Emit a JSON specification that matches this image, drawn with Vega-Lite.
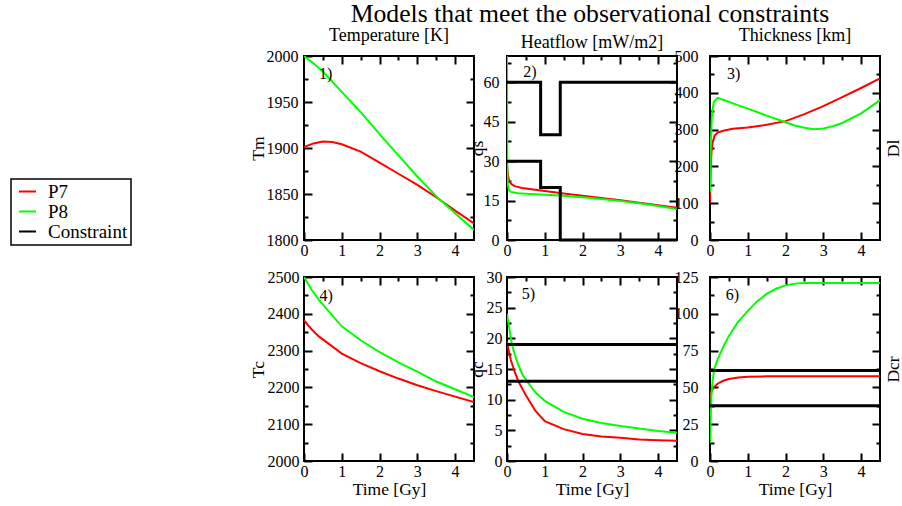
{
  "$schema": "https://vega.github.io/schema/vega-lite/v6.json",
  "padding": {"left": 10, "top": 1, "right": 0, "bottom": 0},
  "title": {"text": "Models that meet the observational constraints", "font": "Liberation Serif", "fontSize": 25.7, "fontWeight": "normal", "color": "black", "anchor": "middle", "frame": "group", "dx": 286, "offset": -2},
  "datasets": {
    "tm": [
      {"t": 0, "v": 1901, "s": "P7"}, {"t": 0.25, "v": 1905, "s": "P7"}, {"t": 0.5, "v": 1907, "s": "P7"}, {"t": 0.75, "v": 1906.5, "s": "P7"}, {"t": 1, "v": 1904, "s": "P7"}, {"t": 1.5, "v": 1896, "s": "P7"}, {"t": 2, "v": 1884, "s": "P7"}, {"t": 2.5, "v": 1872, "s": "P7"}, {"t": 3, "v": 1860, "s": "P7"}, {"t": 3.5, "v": 1846.5, "s": "P7"}, {"t": 4, "v": 1832, "s": "P7"}, {"t": 4.5, "v": 1818, "s": "P7"},
      {"t": 0, "v": 2000, "s": "P8"}, {"t": 0.25, "v": 1992, "s": "P8"}, {"t": 0.5, "v": 1983, "s": "P8"}, {"t": 0.75, "v": 1972, "s": "P8"}, {"t": 1, "v": 1961, "s": "P8"}, {"t": 1.5, "v": 1939, "s": "P8"}, {"t": 2, "v": 1915, "s": "P8"}, {"t": 2.5, "v": 1892, "s": "P8"}, {"t": 3, "v": 1869, "s": "P8"}, {"t": 3.5, "v": 1847.5, "s": "P8"}, {"t": 4, "v": 1829, "s": "P8"}, {"t": 4.5, "v": 1811, "s": "P8"}
    ],
    "qs": [
      {"t": 0, "v": 29, "s": "P7"}, {"t": 0.02, "v": 25, "s": "P7"}, {"t": 0.05, "v": 23, "s": "P7"}, {"t": 0.1, "v": 21.5, "s": "P7"}, {"t": 0.2, "v": 20.5, "s": "P7"}, {"t": 0.4, "v": 19.8, "s": "P7"}, {"t": 0.7, "v": 19.2, "s": "P7"}, {"t": 1, "v": 18.6, "s": "P7"}, {"t": 1.5, "v": 17.7, "s": "P7"}, {"t": 2, "v": 16.8, "s": "P7"}, {"t": 2.5, "v": 16, "s": "P7"}, {"t": 3, "v": 15.1, "s": "P7"}, {"t": 3.5, "v": 14.2, "s": "P7"}, {"t": 4, "v": 13.2, "s": "P7"}, {"t": 4.5, "v": 12.3, "s": "P7"},
      {"t": 0, "v": 72, "s": "P8"}, {"t": 0.005, "v": 40, "s": "P8"}, {"t": 0.01, "v": 26, "s": "P8"}, {"t": 0.02, "v": 21, "s": "P8"}, {"t": 0.05, "v": 19, "s": "P8"}, {"t": 0.1, "v": 18.3, "s": "P8"}, {"t": 0.3, "v": 17.8, "s": "P8"}, {"t": 0.6, "v": 17.5, "s": "P8"}, {"t": 1, "v": 17.2, "s": "P8"}, {"t": 1.5, "v": 16.8, "s": "P8"}, {"t": 2, "v": 16.3, "s": "P8"}, {"t": 2.5, "v": 15.6, "s": "P8"}, {"t": 3, "v": 14.8, "s": "P8"}, {"t": 3.5, "v": 14, "s": "P8"}, {"t": 4, "v": 12.9, "s": "P8"}, {"t": 4.5, "v": 11.8, "s": "P8"}
    ],
    "qsLimits": [
      {"t": 0, "v": 60, "s": "Constraint", "seg": "upper", "i": 1}, {"t": 0.89, "v": 60, "s": "Constraint", "seg": "upper", "i": 2}, {"t": 0.89, "v": 40, "s": "Constraint", "seg": "upper", "i": 3}, {"t": 1.41, "v": 40, "s": "Constraint", "seg": "upper", "i": 4}, {"t": 1.41, "v": 60, "s": "Constraint", "seg": "upper", "i": 5}, {"t": 4.5, "v": 60, "s": "Constraint", "seg": "upper", "i": 6},
      {"t": 0, "v": 30, "s": "Constraint", "seg": "lower", "i": 1}, {"t": 0.89, "v": 30, "s": "Constraint", "seg": "lower", "i": 2}, {"t": 0.89, "v": 20, "s": "Constraint", "seg": "lower", "i": 3}, {"t": 1.41, "v": 20, "s": "Constraint", "seg": "lower", "i": 4}, {"t": 1.41, "v": 0, "s": "Constraint", "seg": "lower", "i": 5}, {"t": 4.5, "v": 0, "s": "Constraint", "seg": "lower", "i": 6}
    ],
    "dl": [
      {"t": 0, "v": 100, "s": "P7"}, {"t": 0.02, "v": 200, "s": "P7"}, {"t": 0.04, "v": 240, "s": "P7"}, {"t": 0.07, "v": 265, "s": "P7"}, {"t": 0.12, "v": 283, "s": "P7"}, {"t": 0.2, "v": 292, "s": "P7"}, {"t": 0.35, "v": 297, "s": "P7"}, {"t": 0.6, "v": 302, "s": "P7"}, {"t": 1, "v": 306, "s": "P7"}, {"t": 1.5, "v": 313, "s": "P7"}, {"t": 2, "v": 323, "s": "P7"}, {"t": 2.5, "v": 342, "s": "P7"}, {"t": 3, "v": 364, "s": "P7"}, {"t": 3.5, "v": 388, "s": "P7"}, {"t": 4, "v": 413, "s": "P7"}, {"t": 4.5, "v": 439, "s": "P7"},
      {"t": 0, "v": 130, "s": "P8"}, {"t": 0.02, "v": 260, "s": "P8"}, {"t": 0.05, "v": 340, "s": "P8"}, {"t": 0.1, "v": 375, "s": "P8"}, {"t": 0.2, "v": 386, "s": "P8"}, {"t": 0.4, "v": 379, "s": "P8"}, {"t": 0.7, "v": 368, "s": "P8"}, {"t": 1, "v": 357, "s": "P8"}, {"t": 1.5, "v": 338, "s": "P8"}, {"t": 2, "v": 320, "s": "P8"}, {"t": 2.25, "v": 311, "s": "P8"}, {"t": 2.5, "v": 305, "s": "P8"}, {"t": 2.75, "v": 301, "s": "P8"}, {"t": 3, "v": 303, "s": "P8"}, {"t": 3.25, "v": 309, "s": "P8"}, {"t": 3.5, "v": 318, "s": "P8"}, {"t": 4, "v": 344, "s": "P8"}, {"t": 4.5, "v": 380, "s": "P8"}
    ],
    "tc": [
      {"t": 0, "v": 2383, "s": "P7"}, {"t": 0.1, "v": 2370, "s": "P7"}, {"t": 0.2, "v": 2358, "s": "P7"}, {"t": 0.4, "v": 2338, "s": "P7"}, {"t": 0.65, "v": 2319, "s": "P7"}, {"t": 1, "v": 2292, "s": "P7"}, {"t": 1.5, "v": 2266, "s": "P7"}, {"t": 2, "v": 2244, "s": "P7"}, {"t": 2.5, "v": 2224, "s": "P7"}, {"t": 3, "v": 2206, "s": "P7"}, {"t": 3.5, "v": 2190, "s": "P7"}, {"t": 4, "v": 2175, "s": "P7"}, {"t": 4.5, "v": 2160, "s": "P7"},
      {"t": 0, "v": 2500, "s": "P8"}, {"t": 0.2, "v": 2466, "s": "P8"}, {"t": 0.4, "v": 2437, "s": "P8"}, {"t": 0.65, "v": 2407, "s": "P8"}, {"t": 1, "v": 2366, "s": "P8"}, {"t": 1.5, "v": 2328, "s": "P8"}, {"t": 2, "v": 2296, "s": "P8"}, {"t": 2.5, "v": 2268, "s": "P8"}, {"t": 3, "v": 2243, "s": "P8"}, {"t": 3.5, "v": 2216, "s": "P8"}, {"t": 4, "v": 2195, "s": "P8"}, {"t": 4.5, "v": 2174, "s": "P8"}
    ],
    "qc": [
      {"t": 0, "v": 19.5, "s": "P7"}, {"t": 0.05, "v": 17.8, "s": "P7"}, {"t": 0.1, "v": 16.5, "s": "P7"}, {"t": 0.2, "v": 14.6, "s": "P7"}, {"t": 0.3, "v": 13, "s": "P7"}, {"t": 0.5, "v": 10.7, "s": "P7"}, {"t": 0.75, "v": 8.2, "s": "P7"}, {"t": 1, "v": 6.5, "s": "P7"}, {"t": 1.5, "v": 5.2, "s": "P7"}, {"t": 2, "v": 4.4, "s": "P7"}, {"t": 2.5, "v": 4, "s": "P7"}, {"t": 3, "v": 3.8, "s": "P7"}, {"t": 3.5, "v": 3.5, "s": "P7"}, {"t": 4, "v": 3.4, "s": "P7"}, {"t": 4.5, "v": 3.3, "s": "P7"},
      {"t": 0, "v": 24, "s": "P8"}, {"t": 0.05, "v": 22, "s": "P8"}, {"t": 0.13, "v": 19, "s": "P8"}, {"t": 0.25, "v": 16.5, "s": "P8"}, {"t": 0.4, "v": 14.2, "s": "P8"}, {"t": 0.53, "v": 13, "s": "P8"}, {"t": 0.75, "v": 11.2, "s": "P8"}, {"t": 1, "v": 9.8, "s": "P8"}, {"t": 1.5, "v": 8, "s": "P8"}, {"t": 2, "v": 6.9, "s": "P8"}, {"t": 2.5, "v": 6.2, "s": "P8"}, {"t": 3, "v": 5.7, "s": "P8"}, {"t": 3.5, "v": 5.3, "s": "P8"}, {"t": 4, "v": 4.9, "s": "P8"}, {"t": 4.5, "v": 4.6, "s": "P8"}
    ],
    "qcLimits": [
      {"t": 0, "v": 19, "s": "Constraint", "seg": "upper", "i": 1}, {"t": 4.5, "v": 19, "s": "Constraint", "seg": "upper", "i": 2},
      {"t": 0, "v": 13, "s": "Constraint", "seg": "lower", "i": 1}, {"t": 4.5, "v": 13, "s": "Constraint", "seg": "lower", "i": 2}
    ],
    "dcr": [
      {"t": 0, "v": 42, "s": "P7"}, {"t": 0.02, "v": 45, "s": "P7"}, {"t": 0.05, "v": 48, "s": "P7"}, {"t": 0.1, "v": 50, "s": "P7"}, {"t": 0.2, "v": 52.5, "s": "P7"}, {"t": 0.35, "v": 54.5, "s": "P7"}, {"t": 0.5, "v": 55.7, "s": "P7"}, {"t": 0.75, "v": 56.7, "s": "P7"}, {"t": 1, "v": 57.2, "s": "P7"}, {"t": 1.5, "v": 57.5, "s": "P7"}, {"t": 2, "v": 57.5, "s": "P7"}, {"t": 3, "v": 57.5, "s": "P7"}, {"t": 4.5, "v": 57.5, "s": "P7"},
      {"t": 0, "v": 12, "s": "P8"}, {"t": 0.02, "v": 30, "s": "P8"}, {"t": 0.04, "v": 45, "s": "P8"}, {"t": 0.07, "v": 55, "s": "P8"}, {"t": 0.11, "v": 62, "s": "P8"}, {"t": 0.2, "v": 69, "s": "P8"}, {"t": 0.38, "v": 79, "s": "P8"}, {"t": 0.5, "v": 85, "s": "P8"}, {"t": 0.73, "v": 94, "s": "P8"}, {"t": 1, "v": 102, "s": "P8"}, {"t": 1.25, "v": 108.5, "s": "P8"}, {"t": 1.5, "v": 113.5, "s": "P8"}, {"t": 1.75, "v": 117, "s": "P8"}, {"t": 2, "v": 119.3, "s": "P8"}, {"t": 2.25, "v": 120.5, "s": "P8"}, {"t": 2.5, "v": 121, "s": "P8"}, {"t": 3, "v": 121, "s": "P8"}, {"t": 3.5, "v": 121, "s": "P8"}, {"t": 4, "v": 121, "s": "P8"}, {"t": 4.5, "v": 121, "s": "P8"}
    ],
    "dcrLimits": [
      {"t": 0, "v": 61.5, "s": "Constraint", "seg": "upper", "i": 1}, {"t": 4.5, "v": 61.5, "s": "Constraint", "seg": "upper", "i": 2},
      {"t": 0, "v": 37.5, "s": "Constraint", "seg": "lower", "i": 1}, {"t": 4.5, "v": 37.5, "s": "Constraint", "seg": "lower", "i": 2}
    ]
  },
  "columns": 3,
  "spacing": {"row": 37, "column": 33},
  "bounds": "flush",
  "concat": [
    {
      "width": 170, "height": 184,
      "title": {"text": "Temperature [K]"},
      "resolve": {"axis": {"x": "independent", "y": "independent"}},
      "layer": [
        {
          "data": {"name": "tm"},
          "mark": {"type": "line", "strokeWidth": 2, "clip": true},
          "encoding": {
            "x": {"field": "t", "type": "quantitative", "scale": {"domain": [0, 4.5], "nice": false, "zero": false},
              "axis": {"orient": "bottom", "values": [0, 0.5, 1, 1.5, 2, 2.5, 3, 3.5, 4], "format": "d", "labelExpr": "datum.value % 1 === 0 ? datum.label : ''", "tickSize": {"condition": {"test": "datum.value % 1 === 0", "value": -8}, "value": -4}, "labelPadding": 10, "title": null}},
            "y": {"field": "v", "type": "quantitative", "scale": {"domain": [1800, 2000], "nice": false, "zero": false},
              "axis": {"orient": "left", "values": [1800, 1825, 1850, 1875, 1900, 1925, 1950, 1975, 2000], "format": "d", "labelExpr": "datum.value % 50 === 0 ? datum.label : ''", "tickSize": {"condition": {"test": "datum.value % 50 === 0", "value": -8}, "value": -4}, "labelPadding": 14, "title": "Tm", "titleX": -41, "titleY": 92, "titleAngle": 270, "titleAlign": "center", "titleBaseline": "alphabetic"}},
            "color": {"field": "s", "type": "nominal", "scale": {"domain": ["P7", "P8", "Constraint"], "range": ["#ff0000", "#00ff00", "#000000"]},
              "legend": {"orient": "none", "legendX": -293, "legendY": 123, "title": null, "labelFont": "Liberation Serif", "labelFontSize": 19, "encode": {"labels": {"update": {"font": {"value": "Liberation Serif"}, "fontSize": {"value": 19}}}}}}
          }
        },
        {
          "data": {"values": [{"tag": "1)"}]},
          "mark": {"type": "text", "align": "left", "baseline": "middle", "font": "Liberation Serif", "fontSize": 16, "color": "black"},
          "encoding": {
            "text": {"field": "tag"},
            "x": {"datum": 0.4, "type": "quantitative", "scale": {"domain": [0, 4.5], "nice": false, "zero": false},
              "axis": {"orient": "top", "values": [0.5, 1, 1.5, 2, 2.5, 3, 3.5, 4], "labels": false, "tickSize": {"condition": {"test": "datum.value % 1 === 0", "value": -8}, "value": -4}, "title": null}},
            "y": {"datum": 1980, "type": "quantitative", "scale": {"domain": [1800, 2000], "nice": false, "zero": false},
              "axis": {"orient": "right", "values": [1825, 1850, 1875, 1900, 1925, 1950, 1975], "labels": false, "tickSize": {"condition": {"test": "datum.value % 50 === 0", "value": -8}, "value": -4}, "title": null}}
          }
        }
      ]
    },
    {
      "width": 170, "height": 184,
      "title": {"text": "Heatflow [mW/m2]"},
      "resolve": {"axis": {"x": "independent", "y": "independent"}},
      "layer": [
        {
          "data": {"name": "qs"},
          "mark": {"type": "line", "strokeWidth": 2, "clip": true},
          "encoding": {
            "x": {"field": "t", "type": "quantitative", "scale": {"domain": [0, 4.5], "nice": false, "zero": false},
              "axis": {"orient": "bottom", "values": [0, 0.5, 1, 1.5, 2, 2.5, 3, 3.5, 4], "format": "d", "labelExpr": "datum.value % 1 === 0 ? datum.label : ''", "tickSize": {"condition": {"test": "datum.value % 1 === 0", "value": -8}, "value": -4}, "labelPadding": 10, "title": null}},
            "y": {"field": "v", "type": "quantitative", "scale": {"domain": [0, 70], "nice": false, "zero": false},
              "axis": {"orient": "left", "values": [0, 7.5, 15, 22.5, 30, 37.5, 45, 52.5, 60, 67.5], "format": "d", "labelExpr": "datum.value % 15 === 0 ? datum.label : ''", "tickSize": {"condition": {"test": "datum.value % 15 === 0", "value": -8}, "value": -4}, "labelPadding": 16, "title": "qs", "titleX": -25, "titleY": 92, "titleAngle": 270, "titleAlign": "center", "titleBaseline": "alphabetic"}},
            "color": {"field": "s", "type": "nominal", "scale": {"domain": ["P7", "P8", "Constraint"], "range": ["#ff0000", "#00ff00", "#000000"]},
              "legend": {"orient": "none", "legendX": -293, "legendY": 123, "title": null, "labelFont": "Liberation Serif", "labelFontSize": 19, "encode": {"labels": {"update": {"font": {"value": "Liberation Serif"}, "fontSize": {"value": 19}}}}}}
          }
        },
        {
          "data": {"name": "qsLimits"},
          "mark": {"type": "line", "strokeWidth": 3, "clip": false},
          "encoding": {
            "x": {"field": "t", "type": "quantitative", "axis": null},
            "y": {"field": "v", "type": "quantitative", "axis": null},
            "detail": {"field": "seg"},
            "order": {"field": "i"},
            "color": {"field": "s", "type": "nominal"}
          }
        },
        {
          "data": {"values": [{"tag": "2)"}]},
          "mark": {"type": "text", "align": "left", "baseline": "middle", "font": "Liberation Serif", "fontSize": 16, "color": "black"},
          "encoding": {
            "text": {"field": "tag"},
            "x": {"datum": 0.43, "type": "quantitative", "scale": {"domain": [0, 4.5], "nice": false, "zero": false},
              "axis": {"orient": "top", "values": [0.5, 1, 1.5, 2, 2.5, 3, 3.5, 4], "labels": false, "tickSize": {"condition": {"test": "datum.value % 1 === 0", "value": -8}, "value": -4}, "title": null}},
            "y": {"datum": 64, "type": "quantitative", "scale": {"domain": [0, 70], "nice": false, "zero": false},
              "axis": {"orient": "right", "values": [7.5, 15, 22.5, 30, 37.5, 45, 52.5, 60, 67.5], "labels": false, "tickSize": {"condition": {"test": "datum.value % 15 === 0", "value": -8}, "value": -4}, "title": null}}
          }
        }
      ]
    },
    {
      "width": 170, "height": 184,
      "title": {"text": "Thickness [km]"},
      "resolve": {"axis": {"x": "independent", "y": "independent"}},
      "layer": [
        {
          "data": {"name": "dl"},
          "mark": {"type": "line", "strokeWidth": 2, "clip": true},
          "encoding": {
            "x": {"field": "t", "type": "quantitative", "scale": {"domain": [0, 4.5], "nice": false, "zero": false},
              "axis": {"orient": "bottom", "values": [0, 0.5, 1, 1.5, 2, 2.5, 3, 3.5, 4], "format": "d", "labelExpr": "datum.value % 1 === 0 ? datum.label : ''", "tickSize": {"condition": {"test": "datum.value % 1 === 0", "value": -8}, "value": -4}, "labelPadding": 10, "title": null}},
            "y": {"field": "v", "type": "quantitative", "scale": {"domain": [0, 500], "nice": false, "zero": false},
              "axis": {"orient": "left", "values": [0, 50, 100, 150, 200, 250, 300, 350, 400, 450, 500], "format": "d", "labelExpr": "datum.value % 100 === 0 ? datum.label : ''", "tickSize": {"condition": {"test": "datum.value % 100 === 0", "value": -8}, "value": -4}, "labelPadding": 20, "title": null}},
            "color": {"field": "s", "type": "nominal", "scale": {"domain": ["P7", "P8", "Constraint"], "range": ["#ff0000", "#00ff00", "#000000"]},
              "legend": {"orient": "none", "legendX": -293, "legendY": 123, "title": null, "labelFont": "Liberation Serif", "labelFontSize": 19, "encode": {"labels": {"update": {"font": {"value": "Liberation Serif"}, "fontSize": {"value": 19}}}}}}
          }
        },
        {
          "data": {"values": [{"tag": "3)"}]},
          "mark": {"type": "text", "align": "left", "baseline": "middle", "font": "Liberation Serif", "fontSize": 16, "color": "black"},
          "encoding": {
            "text": {"field": "tag"},
            "x": {"datum": 0.45, "type": "quantitative", "scale": {"domain": [0, 4.5], "nice": false, "zero": false},
              "axis": {"orient": "top", "values": [0.5, 1, 1.5, 2, 2.5, 3, 3.5, 4], "labels": false, "tickSize": {"condition": {"test": "datum.value % 1 === 0", "value": -8}, "value": -4}, "title": null}},
            "y": {"datum": 450, "type": "quantitative", "scale": {"domain": [0, 500], "nice": false, "zero": false},
              "axis": {"orient": "right", "values": [50, 100, 150, 200, 250, 300, 350, 400, 450], "labels": false, "tickSize": {"condition": {"test": "datum.value % 100 === 0", "value": -8}, "value": -4}, "title": "Dl", "titleX": 18, "titleY": 92, "titleAngle": 270, "titleAlign": "center", "titleBaseline": "alphabetic"}}
          }
        }
      ]
    },
    {
      "width": 170, "height": 184,
      "resolve": {"axis": {"x": "independent", "y": "independent"}},
      "layer": [
        {
          "data": {"name": "tc"},
          "mark": {"type": "line", "strokeWidth": 2, "clip": true},
          "encoding": {
            "x": {"field": "t", "type": "quantitative", "scale": {"domain": [0, 4.5], "nice": false, "zero": false},
              "axis": {"orient": "bottom", "values": [0, 0.5, 1, 1.5, 2, 2.5, 3, 3.5, 4], "format": "d", "labelExpr": "datum.value % 1 === 0 ? datum.label : ''", "tickSize": {"condition": {"test": "datum.value % 1 === 0", "value": -8}, "value": -4}, "labelPadding": 10, "title": "Time [Gy]", "titleY": 33, "titleBaseline": "alphabetic"}},
            "y": {"field": "v", "type": "quantitative", "scale": {"domain": [2000, 2500], "nice": false, "zero": false},
              "axis": {"orient": "left", "values": [2000, 2050, 2100, 2150, 2200, 2250, 2300, 2350, 2400, 2450, 2500], "format": "d", "labelExpr": "datum.value % 100 === 0 ? datum.label : ''", "tickSize": {"condition": {"test": "datum.value % 100 === 0", "value": -8}, "value": -4}, "labelPadding": 13, "title": "Tc", "titleX": -41, "titleY": 92, "titleAngle": 270, "titleAlign": "center", "titleBaseline": "alphabetic"}},
            "color": {"field": "s", "type": "nominal", "scale": {"domain": ["P7", "P8", "Constraint"], "range": ["#ff0000", "#00ff00", "#000000"]},
              "legend": {"orient": "none", "legendX": -293, "legendY": 123, "title": null, "labelFont": "Liberation Serif", "labelFontSize": 19, "encode": {"labels": {"update": {"font": {"value": "Liberation Serif"}, "fontSize": {"value": 19}}}}}}
          }
        },
        {
          "data": {"values": [{"tag": "4)"}]},
          "mark": {"type": "text", "align": "left", "baseline": "middle", "font": "Liberation Serif", "fontSize": 16, "color": "black"},
          "encoding": {
            "text": {"field": "tag"},
            "x": {"datum": 0.41, "type": "quantitative", "scale": {"domain": [0, 4.5], "nice": false, "zero": false},
              "axis": {"orient": "top", "values": [0.5, 1, 1.5, 2, 2.5, 3, 3.5, 4], "labels": false, "tickSize": {"condition": {"test": "datum.value % 1 === 0", "value": -8}, "value": -4}, "title": null}},
            "y": {"datum": 2448, "type": "quantitative", "scale": {"domain": [2000, 2500], "nice": false, "zero": false},
              "axis": {"orient": "right", "values": [2050, 2100, 2150, 2200, 2250, 2300, 2350, 2400, 2450], "labels": false, "tickSize": {"condition": {"test": "datum.value % 100 === 0", "value": -8}, "value": -4}, "title": null}}
          }
        }
      ]
    },
    {
      "width": 170, "height": 184,
      "resolve": {"axis": {"x": "independent", "y": "independent"}},
      "layer": [
        {
          "data": {"name": "qc"},
          "mark": {"type": "line", "strokeWidth": 2, "clip": true},
          "encoding": {
            "x": {"field": "t", "type": "quantitative", "scale": {"domain": [0, 4.5], "nice": false, "zero": false},
              "axis": {"orient": "bottom", "values": [0, 0.5, 1, 1.5, 2, 2.5, 3, 3.5, 4], "format": "d", "labelExpr": "datum.value % 1 === 0 ? datum.label : ''", "tickSize": {"condition": {"test": "datum.value % 1 === 0", "value": -8}, "value": -4}, "labelPadding": 10, "title": "Time [Gy]", "titleY": 33, "titleBaseline": "alphabetic"}},
            "y": {"field": "v", "type": "quantitative", "scale": {"domain": [0, 30], "nice": false, "zero": false},
              "axis": {"orient": "left", "values": [0, 2.5, 5, 7.5, 10, 12.5, 15, 17.5, 20, 22.5, 25, 27.5, 30], "format": "d", "labelExpr": "datum.value % 5 === 0 ? datum.label : ''", "tickSize": {"condition": {"test": "datum.value % 5 === 0", "value": -8}, "value": -4}, "labelPadding": 13, "title": "qc", "titleX": -25, "titleY": 92, "titleAngle": 270, "titleAlign": "center", "titleBaseline": "alphabetic"}},
            "color": {"field": "s", "type": "nominal", "scale": {"domain": ["P7", "P8", "Constraint"], "range": ["#ff0000", "#00ff00", "#000000"]},
              "legend": {"orient": "none", "legendX": -293, "legendY": 123, "title": null, "labelFont": "Liberation Serif", "labelFontSize": 19, "encode": {"labels": {"update": {"font": {"value": "Liberation Serif"}, "fontSize": {"value": 19}}}}}}
          }
        },
        {
          "data": {"name": "qcLimits"},
          "mark": {"type": "line", "strokeWidth": 3, "clip": false},
          "encoding": {
            "x": {"field": "t", "type": "quantitative", "axis": null},
            "y": {"field": "v", "type": "quantitative", "axis": null},
            "detail": {"field": "seg"},
            "order": {"field": "i"},
            "color": {"field": "s", "type": "nominal"}
          }
        },
        {
          "data": {"values": [{"tag": "5)"}]},
          "mark": {"type": "text", "align": "left", "baseline": "middle", "font": "Liberation Serif", "fontSize": 16, "color": "black"},
          "encoding": {
            "text": {"field": "tag"},
            "x": {"datum": 0.39, "type": "quantitative", "scale": {"domain": [0, 4.5], "nice": false, "zero": false},
              "axis": {"orient": "top", "values": [0.5, 1, 1.5, 2, 2.5, 3, 3.5, 4], "labels": false, "tickSize": {"condition": {"test": "datum.value % 1 === 0", "value": -8}, "value": -4}, "title": null}},
            "y": {"datum": 27.2, "type": "quantitative", "scale": {"domain": [0, 30], "nice": false, "zero": false},
              "axis": {"orient": "right", "values": [2.5, 5, 7.5, 10, 12.5, 15, 17.5, 20, 22.5, 25, 27.5], "labels": false, "tickSize": {"condition": {"test": "datum.value % 5 === 0", "value": -8}, "value": -4}, "title": null}}
          }
        }
      ]
    },
    {
      "width": 170, "height": 184,
      "resolve": {"axis": {"x": "independent", "y": "independent"}},
      "layer": [
        {
          "data": {"name": "dcr"},
          "mark": {"type": "line", "strokeWidth": 2, "clip": true},
          "encoding": {
            "x": {"field": "t", "type": "quantitative", "scale": {"domain": [0, 4.5], "nice": false, "zero": false},
              "axis": {"orient": "bottom", "values": [0, 0.5, 1, 1.5, 2, 2.5, 3, 3.5, 4], "format": "d", "labelExpr": "datum.value % 1 === 0 ? datum.label : ''", "tickSize": {"condition": {"test": "datum.value % 1 === 0", "value": -8}, "value": -4}, "labelPadding": 10, "title": "Time [Gy]", "titleY": 33, "titleBaseline": "alphabetic"}},
            "y": {"field": "v", "type": "quantitative", "scale": {"domain": [0, 125], "nice": false, "zero": false},
              "axis": {"orient": "left", "values": [0, 12.5, 25, 37.5, 50, 62.5, 75, 87.5, 100, 112.5, 125], "format": "d", "labelExpr": "datum.value % 25 === 0 ? datum.label : ''", "tickSize": {"condition": {"test": "datum.value % 25 === 0", "value": -8}, "value": -4}, "labelPadding": 20, "title": null}},
            "color": {"field": "s", "type": "nominal", "scale": {"domain": ["P7", "P8", "Constraint"], "range": ["#ff0000", "#00ff00", "#000000"]},
              "legend": {"orient": "none", "legendX": -293, "legendY": 123, "title": null, "labelFont": "Liberation Serif", "labelFontSize": 19, "encode": {"labels": {"update": {"font": {"value": "Liberation Serif"}, "fontSize": {"value": 19}}}}}}
          }
        },
        {
          "data": {"name": "dcrLimits"},
          "mark": {"type": "line", "strokeWidth": 3, "clip": false},
          "encoding": {
            "x": {"field": "t", "type": "quantitative", "axis": null},
            "y": {"field": "v", "type": "quantitative", "axis": null},
            "detail": {"field": "seg"},
            "order": {"field": "i"},
            "color": {"field": "s", "type": "nominal"}
          }
        },
        {
          "data": {"values": [{"tag": "6)"}]},
          "mark": {"type": "text", "align": "left", "baseline": "middle", "font": "Liberation Serif", "fontSize": 16, "color": "black"},
          "encoding": {
            "text": {"field": "tag"},
            "x": {"datum": 0.42, "type": "quantitative", "scale": {"domain": [0, 4.5], "nice": false, "zero": false},
              "axis": {"orient": "top", "values": [0.5, 1, 1.5, 2, 2.5, 3, 3.5, 4], "labels": false, "tickSize": {"condition": {"test": "datum.value % 1 === 0", "value": -8}, "value": -4}, "title": null}},
            "y": {"datum": 113, "type": "quantitative", "scale": {"domain": [0, 125], "nice": false, "zero": false},
              "axis": {"orient": "right", "values": [12.5, 25, 37.5, 50, 62.5, 75, 87.5, 100, 112.5], "labels": false, "tickSize": {"condition": {"test": "datum.value % 25 === 0", "value": -8}, "value": -4}, "title": "Dcr", "titleX": 18, "titleY": 92, "titleAngle": 270, "titleAlign": "center", "titleBaseline": "alphabetic"}}
          }
        }
      ]
    }
  ],
  "config": {
    "font": "Liberation Serif",
    "background": "white",
    "view": {"stroke": "black", "strokeWidth": 2},
    "style": {"guide-label": {"font": "Liberation Serif"}},
    "title": {"font": "Liberation Serif", "fontSize": 18, "fontWeight": "normal", "color": "black", "anchor": "middle", "offset": 3, "baseline": "alphabetic"},
    "axis": {"domain": false, "grid": false, "tickColor": "black", "tickWidth": 2, "labelFont": "Liberation Serif", "labelFontSize": 16, "labelColor": "black", "labelFlush": false, "labelOverlap": false, "titleFont": "Liberation Serif", "titleFontSize": 17.5, "titleFontWeight": "normal", "titleColor": "black"},
    "legend": {"labelFont": "Liberation Serif", "labelFontSize": 19, "labelColor": "black", "symbolType": "stroke", "symbolSize": 289, "symbolStrokeWidth": 2, "labelOffset": 11, "symbolOffset": 4, "rowPadding": 0, "padding": 3, "strokeColor": "black", "strokeWidth": 1.5}
  }
}
